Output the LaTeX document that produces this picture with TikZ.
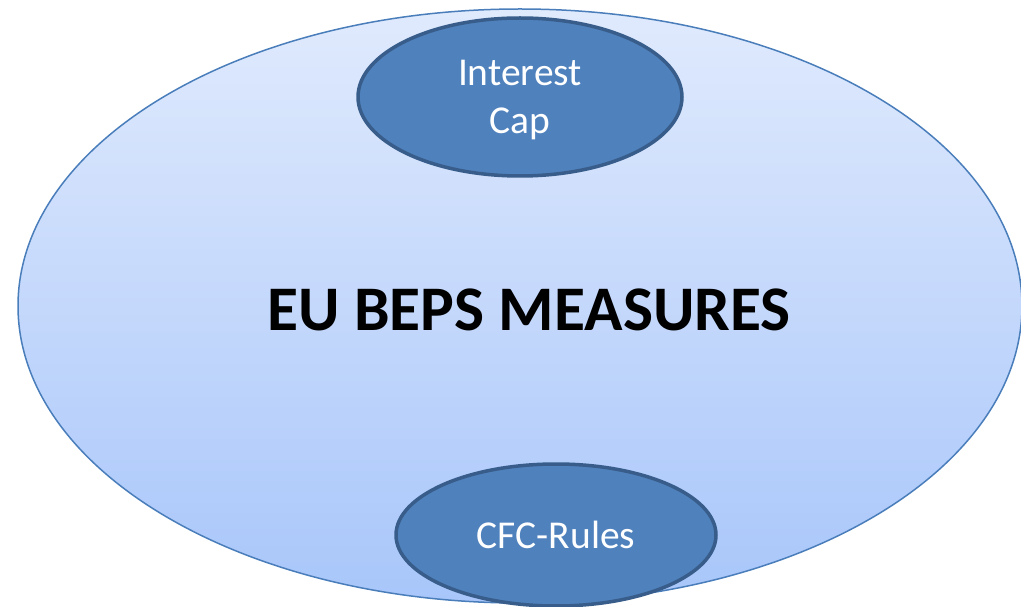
\documentclass[tikz,border=0pt]{standalone}
\usepackage{fontspec}
\setmainfont{Carlito}
\usetikzlibrary{shapes.geometric}
\definecolor{rimblue}{HTML}{4A7EBB}
\definecolor{paletop}{HTML}{E0EAFD}
\definecolor{palebot}{HTML}{A8C6FA}
\definecolor{measfill}{HTML}{4F81BD}
\definecolor{measrim}{HTML}{385D8A}
\tikzset{
    measure/.style={shape=ellipse,draw=measrim,line width=3.5pt,fill=measfill,
        text=white,align=center,font=\fontsize{39.5}{48}\selectfont,text depth=0pt}
}
\begin{document}
\begin{tikzpicture}[x=1pt,y=1pt]
    \useasboundingbox (0,0) rectangle (1021,606);
    \clip (0,0) rectangle (1021,606);

    \node[shape=ellipse,draw=rimblue,line width=1.5pt,top color=paletop,bottom color=palebot,
        minimum width=1004pt,minimum height=594pt] (beps) at (520,300) {};
    \node[font=\bfseries\fontsize{63.5}{76}\selectfont] (title) at (529,296) {EU BEPS MEASURES};

    \node[measure,minimum width=324pt,minimum height=158pt] (cap) at (520,509) {Interest\\Cap};
    \node[measure,minimum width=320pt,minimum height=142pt] (cfc) at (556,71) {CFC-Rules};
\end{tikzpicture}
\end{document}
